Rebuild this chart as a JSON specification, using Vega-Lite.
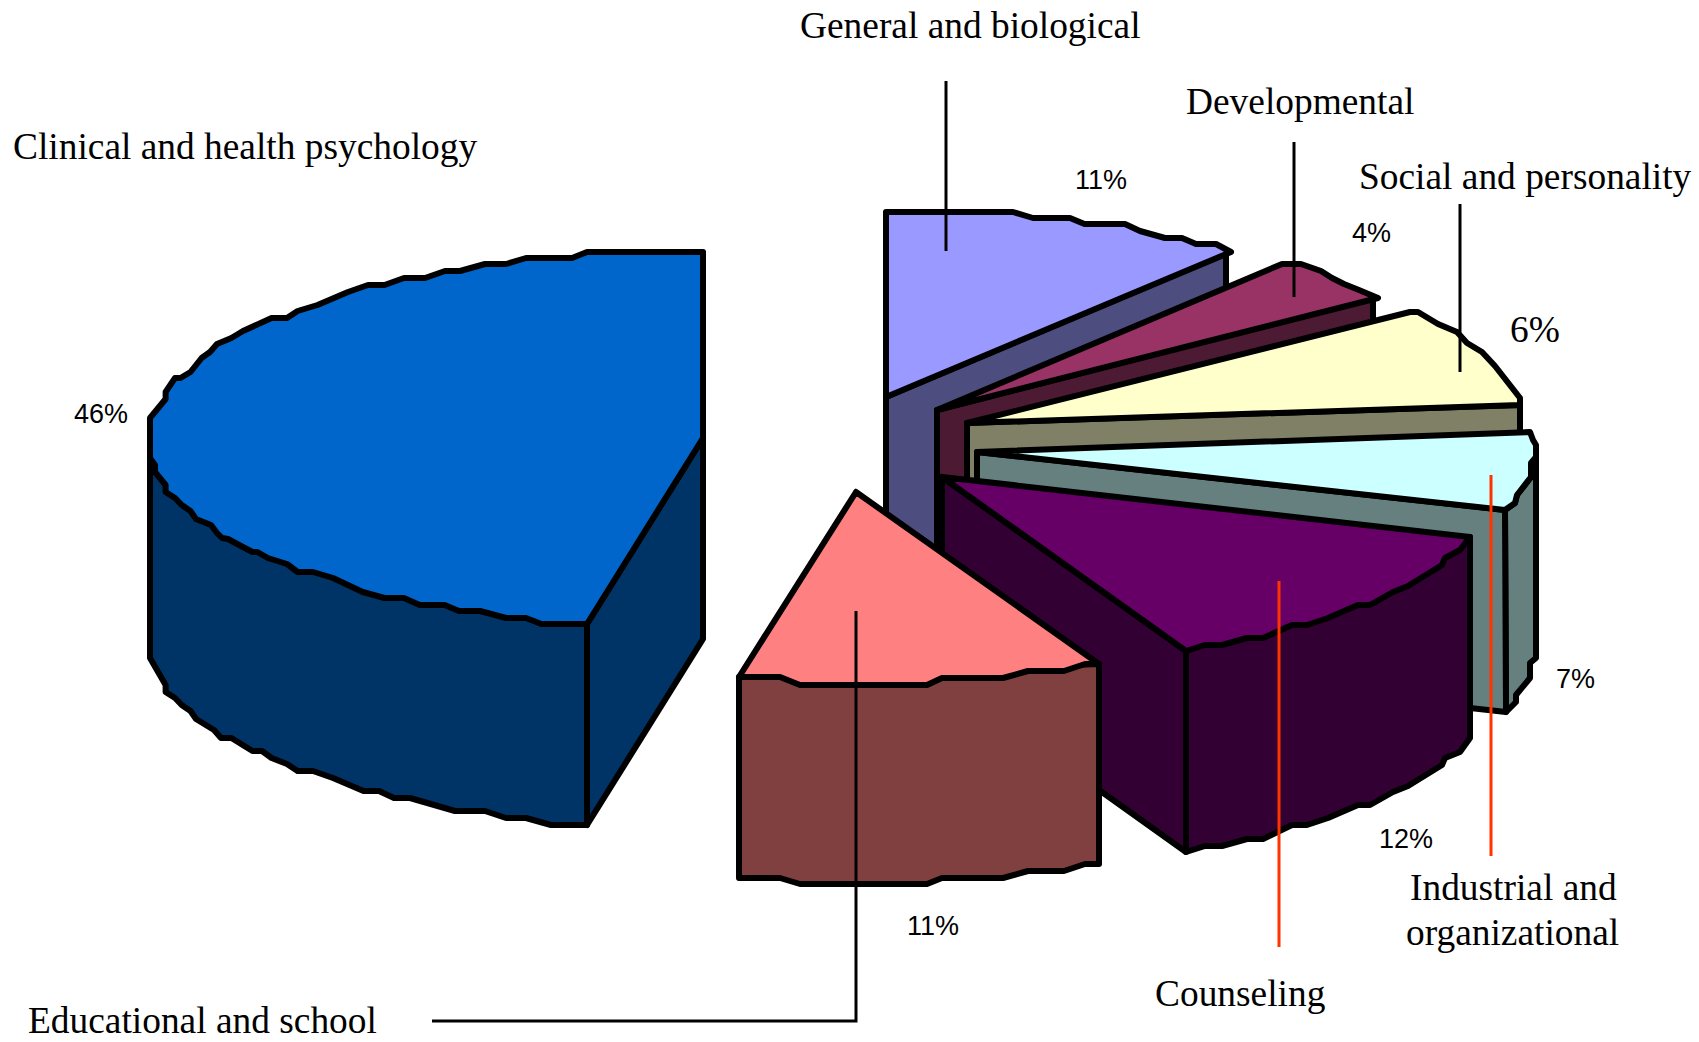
{"$schema":"https://vega.github.io/schema/vega-lite/v6.json","width":1699,"height":1042,"padding":0,"autosize":"none","background":"white","view":{"stroke":null},
"datasets":{"faces":[
{"part":"Clinical side","face":"c1","i":0,"x":703,"y":438},{"part":"Clinical side","face":"c1","i":1,"x":703,"y":639},{"part":"Clinical side","face":"c1","i":2,"x":587,"y":825},{"part":"Clinical side","face":"c1","i":3,"x":587,"y":624},{"part":"Clinical side","face":"c1","i":4,"x":703,"y":438},
{"part":"Clinical side","face":"c2","i":0,"x":150,"y":440},{"part":"Clinical side","face":"c2","i":1,"x":150,"y":658},{"part":"Clinical side","face":"c2","i":2,"x":165.6,"y":685},{"part":"Clinical side","face":"c2","i":3,"x":165.6,"y":692},{"part":"Clinical side","face":"c2","i":4,"x":175,"y":698},{"part":"Clinical side","face":"c2","i":5,"x":181.7,"y":705},{"part":"Clinical side","face":"c2","i":6,"x":190.5,"y":711},{"part":"Clinical side","face":"c2","i":7,"x":196,"y":719},{"part":"Clinical side","face":"c2","i":8,"x":214,"y":730},{"part":"Clinical side","face":"c2","i":9,"x":221,"y":738},{"part":"Clinical side","face":"c2","i":10,"x":231.4,"y":738},{"part":"Clinical side","face":"c2","i":11,"x":252.5,"y":751},{"part":"Clinical side","face":"c2","i":12,"x":262,"y":751},{"part":"Clinical side","face":"c2","i":13,"x":271.6,"y":758},{"part":"Clinical side","face":"c2","i":14,"x":287,"y":764},{"part":"Clinical side","face":"c2","i":15,"x":297.6,"y":771},{"part":"Clinical side","face":"c2","i":16,"x":313,"y":771},{"part":"Clinical side","face":"c2","i":17,"x":333,"y":778},{"part":"Clinical side","face":"c2","i":18,"x":363.5,"y":791},{"part":"Clinical side","face":"c2","i":19,"x":379,"y":791},{"part":"Clinical side","face":"c2","i":20,"x":394,"y":798},{"part":"Clinical side","face":"c2","i":21,"x":410,"y":798},{"part":"Clinical side","face":"c2","i":22,"x":455,"y":811},{"part":"Clinical side","face":"c2","i":23,"x":485,"y":811},{"part":"Clinical side","face":"c2","i":24,"x":506,"y":818},{"part":"Clinical side","face":"c2","i":25,"x":526,"y":818},{"part":"Clinical side","face":"c2","i":26,"x":551,"y":825},{"part":"Clinical side","face":"c2","i":27,"x":587,"y":825},{"part":"Clinical side","face":"c2","i":28,"x":587,"y":600},{"part":"Clinical side","face":"c2","i":29,"x":150,"y":440},
{"part":"Clinical top","face":"c3","i":0,"x":703,"y":252},{"part":"Clinical top","face":"c3","i":1,"x":587,"y":252},{"part":"Clinical top","face":"c3","i":2,"x":572,"y":258},{"part":"Clinical top","face":"c3","i":3,"x":526,"y":258},{"part":"Clinical top","face":"c3","i":4,"x":506,"y":264},{"part":"Clinical top","face":"c3","i":5,"x":485,"y":264},{"part":"Clinical top","face":"c3","i":6,"x":460,"y":271},{"part":"Clinical top","face":"c3","i":7,"x":445,"y":271},{"part":"Clinical top","face":"c3","i":8,"x":425,"y":278},{"part":"Clinical top","face":"c3","i":9,"x":404,"y":278},{"part":"Clinical top","face":"c3","i":10,"x":384.5,"y":285},{"part":"Clinical top","face":"c3","i":11,"x":368,"y":285},{"part":"Clinical top","face":"c3","i":12,"x":348,"y":292},{"part":"Clinical top","face":"c3","i":13,"x":317.5,"y":305},{"part":"Clinical top","face":"c3","i":14,"x":297.6,"y":311},{"part":"Clinical top","face":"c3","i":15,"x":287,"y":318},{"part":"Clinical top","face":"c3","i":16,"x":271.6,"y":318},{"part":"Clinical top","face":"c3","i":17,"x":243,"y":331},{"part":"Clinical top","face":"c3","i":18,"x":231.4,"y":338},{"part":"Clinical top","face":"c3","i":19,"x":217,"y":344},{"part":"Clinical top","face":"c3","i":20,"x":210,"y":352},{"part":"Clinical top","face":"c3","i":21,"x":201.6,"y":358},{"part":"Clinical top","face":"c3","i":22,"x":190.5,"y":372},{"part":"Clinical top","face":"c3","i":23,"x":180.5,"y":378},{"part":"Clinical top","face":"c3","i":24,"x":175,"y":378},{"part":"Clinical top","face":"c3","i":25,"x":165.6,"y":392},{"part":"Clinical top","face":"c3","i":26,"x":165.6,"y":399},{"part":"Clinical top","face":"c3","i":27,"x":150,"y":418},{"part":"Clinical top","face":"c3","i":28,"x":150,"y":458},{"part":"Clinical top","face":"c3","i":29,"x":155,"y":465},{"part":"Clinical top","face":"c3","i":30,"x":155,"y":472},{"part":"Clinical top","face":"c3","i":31,"x":165.6,"y":485},{"part":"Clinical top","face":"c3","i":32,"x":165.6,"y":492},{"part":"Clinical top","face":"c3","i":33,"x":175,"y":498},{"part":"Clinical top","face":"c3","i":34,"x":181.7,"y":505},{"part":"Clinical top","face":"c3","i":35,"x":190.5,"y":511},{"part":"Clinical top","face":"c3","i":36,"x":196,"y":519},{"part":"Clinical top","face":"c3","i":37,"x":211,"y":525},{"part":"Clinical top","face":"c3","i":38,"x":217,"y":533},{"part":"Clinical top","face":"c3","i":39,"x":222,"y":538},{"part":"Clinical top","face":"c3","i":40,"x":228,"y":539},{"part":"Clinical top","face":"c3","i":41,"x":241,"y":546},{"part":"Clinical top","face":"c3","i":42,"x":252.5,"y":552},{"part":"Clinical top","face":"c3","i":43,"x":257.4,"y":552},{"part":"Clinical top","face":"c3","i":44,"x":267.8,"y":558},{"part":"Clinical top","face":"c3","i":45,"x":287,"y":564},{"part":"Clinical top","face":"c3","i":46,"x":297.6,"y":572},{"part":"Clinical top","face":"c3","i":47,"x":313,"y":572},{"part":"Clinical top","face":"c3","i":48,"x":333,"y":578},{"part":"Clinical top","face":"c3","i":49,"x":362.7,"y":592},{"part":"Clinical top","face":"c3","i":50,"x":384.5,"y":598},{"part":"Clinical top","face":"c3","i":51,"x":404,"y":598},{"part":"Clinical top","face":"c3","i":52,"x":419.7,"y":605},{"part":"Clinical top","face":"c3","i":53,"x":444.6,"y":605},{"part":"Clinical top","face":"c3","i":54,"x":459,"y":611},{"part":"Clinical top","face":"c3","i":55,"x":480,"y":611},{"part":"Clinical top","face":"c3","i":56,"x":506,"y":618},{"part":"Clinical top","face":"c3","i":57,"x":526,"y":618},{"part":"Clinical top","face":"c3","i":58,"x":541.4,"y":624},{"part":"Clinical top","face":"c3","i":59,"x":587,"y":624},{"part":"Clinical top","face":"c3","i":60,"x":703,"y":438},{"part":"Clinical top","face":"c3","i":61,"x":703,"y":252},
{"part":"General side","face":"g1","i":0,"x":886,"y":397},{"part":"General side","face":"g1","i":1,"x":1226,"y":253},{"part":"General side","face":"g1","i":2,"x":1226,"y":454},{"part":"General side","face":"g1","i":3,"x":886,"y":598},{"part":"General side","face":"g1","i":4,"x":886,"y":397},
{"part":"General top","face":"g2","i":0,"x":886,"y":212},{"part":"General top","face":"g2","i":1,"x":1013,"y":212},{"part":"General top","face":"g2","i":2,"x":1033,"y":218},{"part":"General top","face":"g2","i":3,"x":1070,"y":218},{"part":"General top","face":"g2","i":4,"x":1084.5,"y":224},{"part":"General top","face":"g2","i":5,"x":1125,"y":224},{"part":"General top","face":"g2","i":6,"x":1140,"y":231},{"part":"General top","face":"g2","i":7,"x":1165,"y":238},{"part":"General top","face":"g2","i":8,"x":1182,"y":238},{"part":"General top","face":"g2","i":9,"x":1196,"y":244},{"part":"General top","face":"g2","i":10,"x":1216,"y":244},{"part":"General top","face":"g2","i":11,"x":1231,"y":252},{"part":"General top","face":"g2","i":12,"x":886,"y":397},{"part":"General top","face":"g2","i":13,"x":886,"y":212},
{"part":"Developmental side","face":"d1","i":0,"x":937,"y":410},{"part":"Developmental side","face":"d1","i":1,"x":1373,"y":298},{"part":"Developmental side","face":"d1","i":2,"x":1373,"y":499},{"part":"Developmental side","face":"d1","i":3,"x":937,"y":611},{"part":"Developmental side","face":"d1","i":4,"x":937,"y":410},
{"part":"Developmental top","face":"d2","i":0,"x":937,"y":410},{"part":"Developmental top","face":"d2","i":1,"x":1282,"y":264},{"part":"Developmental top","face":"d2","i":2,"x":1301,"y":264},{"part":"Developmental top","face":"d2","i":3,"x":1321,"y":271},{"part":"Developmental top","face":"d2","i":4,"x":1332,"y":278},{"part":"Developmental top","face":"d2","i":5,"x":1344,"y":284},{"part":"Developmental top","face":"d2","i":6,"x":1359,"y":290},{"part":"Developmental top","face":"d2","i":7,"x":1378,"y":298},{"part":"Developmental top","face":"d2","i":8,"x":937,"y":410},
{"part":"Social side","face":"s1","i":0,"x":967,"y":423},{"part":"Social side","face":"s1","i":1,"x":1520,"y":405},{"part":"Social side","face":"s1","i":2,"x":1520,"y":606},{"part":"Social side","face":"s1","i":3,"x":967,"y":624},{"part":"Social side","face":"s1","i":4,"x":967,"y":423},
{"part":"Social top","face":"s2","i":0,"x":967,"y":423},{"part":"Social top","face":"s2","i":1,"x":1410,"y":312},{"part":"Social top","face":"s2","i":2,"x":1418,"y":312},{"part":"Social top","face":"s2","i":3,"x":1438,"y":324},{"part":"Social top","face":"s2","i":4,"x":1457,"y":332},{"part":"Social top","face":"s2","i":5,"x":1467,"y":343},{"part":"Social top","face":"s2","i":6,"x":1482,"y":352},{"part":"Social top","face":"s2","i":7,"x":1495,"y":366},{"part":"Social top","face":"s2","i":8,"x":1520,"y":398},{"part":"Social top","face":"s2","i":9,"x":1520,"y":405},{"part":"Social top","face":"s2","i":10,"x":967,"y":423},
{"part":"Industrial side","face":"i1","i":0,"x":1505,"y":510},{"part":"Industrial side","face":"i1","i":1,"x":1515,"y":503},{"part":"Industrial side","face":"i1","i":2,"x":1517,"y":495},{"part":"Industrial side","face":"i1","i":3,"x":1531,"y":477},{"part":"Industrial side","face":"i1","i":4,"x":1536,"y":457},{"part":"Industrial side","face":"i1","i":5,"x":1536,"y":658},{"part":"Industrial side","face":"i1","i":6,"x":1530,"y":663},{"part":"Industrial side","face":"i1","i":7,"x":1530,"y":678},{"part":"Industrial side","face":"i1","i":8,"x":1516,"y":695},{"part":"Industrial side","face":"i1","i":9,"x":1516,"y":702},{"part":"Industrial side","face":"i1","i":10,"x":1506,"y":712},{"part":"Industrial side","face":"i1","i":11,"x":1505,"y":510},
{"part":"Industrial side","face":"i2","i":0,"x":977,"y":452},{"part":"Industrial side","face":"i2","i":1,"x":1505,"y":510},{"part":"Industrial side","face":"i2","i":2,"x":1506,"y":712},{"part":"Industrial side","face":"i2","i":3,"x":977,"y":653},{"part":"Industrial side","face":"i2","i":4,"x":977,"y":452},
{"part":"Industrial top","face":"i3","i":0,"x":977,"y":452},{"part":"Industrial top","face":"i3","i":1,"x":1530,"y":432},{"part":"Industrial top","face":"i3","i":2,"x":1533,"y":440},{"part":"Industrial top","face":"i3","i":3,"x":1536,"y":445},{"part":"Industrial top","face":"i3","i":4,"x":1536,"y":457},{"part":"Industrial top","face":"i3","i":5,"x":1531,"y":463},{"part":"Industrial top","face":"i3","i":6,"x":1531,"y":477},{"part":"Industrial top","face":"i3","i":7,"x":1517,"y":495},{"part":"Industrial top","face":"i3","i":8,"x":1515,"y":503},{"part":"Industrial top","face":"i3","i":9,"x":1505,"y":510},{"part":"Industrial top","face":"i3","i":10,"x":977,"y":452},
{"part":"Counseling side","face":"u1","i":0,"x":942,"y":477},{"part":"Counseling side","face":"u1","i":1,"x":1186,"y":651},{"part":"Counseling side","face":"u1","i":2,"x":1186,"y":852},{"part":"Counseling side","face":"u1","i":3,"x":942,"y":678},{"part":"Counseling side","face":"u1","i":4,"x":942,"y":477},
{"part":"Counseling side","face":"u2","i":0,"x":1186,"y":651},{"part":"Counseling side","face":"u2","i":1,"x":1186,"y":852},{"part":"Counseling side","face":"u2","i":2,"x":1205,"y":846},{"part":"Counseling side","face":"u2","i":3,"x":1222,"y":846},{"part":"Counseling side","face":"u2","i":4,"x":1247,"y":839},{"part":"Counseling side","face":"u2","i":5,"x":1263,"y":839},{"part":"Counseling side","face":"u2","i":6,"x":1292,"y":825},{"part":"Counseling side","face":"u2","i":7,"x":1307,"y":825},{"part":"Counseling side","face":"u2","i":8,"x":1328,"y":818},{"part":"Counseling side","face":"u2","i":9,"x":1358,"y":805},{"part":"Counseling side","face":"u2","i":10,"x":1370,"y":805},{"part":"Counseling side","face":"u2","i":11,"x":1393,"y":792},{"part":"Counseling side","face":"u2","i":12,"x":1408,"y":786},{"part":"Counseling side","face":"u2","i":13,"x":1442,"y":765},{"part":"Counseling side","face":"u2","i":14,"x":1445,"y":758},{"part":"Counseling side","face":"u2","i":15,"x":1460,"y":752},{"part":"Counseling side","face":"u2","i":16,"x":1470,"y":738},{"part":"Counseling side","face":"u2","i":17,"x":1470,"y":537},{"part":"Counseling side","face":"u2","i":18,"x":1186,"y":651},
{"part":"Counseling top","face":"u3","i":0,"x":942,"y":477},{"part":"Counseling top","face":"u3","i":1,"x":1470,"y":537},{"part":"Counseling top","face":"u3","i":2,"x":1460,"y":550},{"part":"Counseling top","face":"u3","i":3,"x":1445,"y":558},{"part":"Counseling top","face":"u3","i":4,"x":1442,"y":565},{"part":"Counseling top","face":"u3","i":5,"x":1408,"y":586},{"part":"Counseling top","face":"u3","i":6,"x":1393,"y":592},{"part":"Counseling top","face":"u3","i":7,"x":1370,"y":605},{"part":"Counseling top","face":"u3","i":8,"x":1358,"y":605},{"part":"Counseling top","face":"u3","i":9,"x":1328,"y":618},{"part":"Counseling top","face":"u3","i":10,"x":1307,"y":625},{"part":"Counseling top","face":"u3","i":11,"x":1292,"y":625},{"part":"Counseling top","face":"u3","i":12,"x":1263,"y":638},{"part":"Counseling top","face":"u3","i":13,"x":1247,"y":638},{"part":"Counseling top","face":"u3","i":14,"x":1222,"y":645},{"part":"Counseling top","face":"u3","i":15,"x":1205,"y":645},{"part":"Counseling top","face":"u3","i":16,"x":1186,"y":651},{"part":"Counseling top","face":"u3","i":17,"x":942,"y":477},
{"part":"Educational side","face":"e1","i":0,"x":739,"y":677},{"part":"Educational side","face":"e1","i":1,"x":739,"y":878},{"part":"Educational side","face":"e1","i":2,"x":780,"y":878},{"part":"Educational side","face":"e1","i":3,"x":800,"y":884},{"part":"Educational side","face":"e1","i":4,"x":927,"y":884},{"part":"Educational side","face":"e1","i":5,"x":942,"y":878},{"part":"Educational side","face":"e1","i":6,"x":1003,"y":878},{"part":"Educational side","face":"e1","i":7,"x":1028,"y":871},{"part":"Educational side","face":"e1","i":8,"x":1064,"y":871},{"part":"Educational side","face":"e1","i":9,"x":1085,"y":864},{"part":"Educational side","face":"e1","i":10,"x":1099,"y":864},{"part":"Educational side","face":"e1","i":11,"x":1099,"y":664},{"part":"Educational side","face":"e1","i":12,"x":739,"y":677},
{"part":"Educational top","face":"e2","i":0,"x":856,"y":492},{"part":"Educational top","face":"e2","i":1,"x":739,"y":677},{"part":"Educational top","face":"e2","i":2,"x":780,"y":677},{"part":"Educational top","face":"e2","i":3,"x":800,"y":685},{"part":"Educational top","face":"e2","i":4,"x":927,"y":685},{"part":"Educational top","face":"e2","i":5,"x":942,"y":678},{"part":"Educational top","face":"e2","i":6,"x":1003,"y":678},{"part":"Educational top","face":"e2","i":7,"x":1028,"y":671},{"part":"Educational top","face":"e2","i":8,"x":1064,"y":671},{"part":"Educational top","face":"e2","i":9,"x":1085,"y":664},{"part":"Educational top","face":"e2","i":10,"x":1099,"y":664},{"part":"Educational top","face":"e2","i":11,"x":856,"y":492}
],
"leaders":[
{"leader":"General","tone":"black","i":0,"x":946,"y":81},{"leader":"General","tone":"black","i":1,"x":946,"y":251},
{"leader":"Developmental","tone":"black","i":0,"x":1294,"y":142},{"leader":"Developmental","tone":"black","i":1,"x":1294,"y":297},
{"leader":"Social","tone":"black","i":0,"x":1460,"y":204},{"leader":"Social","tone":"black","i":1,"x":1460,"y":372},
{"leader":"Industrial","tone":"red","i":0,"x":1491,"y":475},{"leader":"Industrial","tone":"red","i":1,"x":1491,"y":856},
{"leader":"Counseling","tone":"red","i":0,"x":1279,"y":581},{"leader":"Counseling","tone":"red","i":1,"x":1279,"y":947},
{"leader":"Educational","tone":"black","i":0,"x":856,"y":611},{"leader":"Educational","tone":"black","i":1,"x":856,"y":1021},{"leader":"Educational","tone":"black","i":2,"x":432,"y":1021}
],
"names":[
{"label":"General and biological","x":800,"y":38},{"label":"Developmental","x":1186,"y":114},{"label":"Clinical and health psychology","x":13,"y":159},{"label":"Social and personality","x":1359,"y":189},{"label":"Industrial and","x":1410,"y":900},{"label":"organizational","x":1406,"y":945},{"label":"Counseling","x":1155,"y":1006},{"label":"Educational and school","x":28,"y":1033},{"label":"6%","x":1510,"y":342}
],
"shares":[
{"label":"46%","x":74,"y":423},{"label":"11%","x":1075,"y":189},{"label":"4%","x":1352,"y":242},{"label":"7%","x":1556,"y":688},{"label":"12%","x":1379,"y":848},{"label":"11%","x":907,"y":935}
]},
"layer":[
{"data":{"name":"faces"},"mark":{"type":"line","stroke":"#000000","strokeWidth":6,"strokeJoin":"round","strokeCap":"round","clip":false},
"encoding":{"x":{"field":"x","type":"quantitative","scale":{"domain":[0,1699],"nice":false,"zero":false},"axis":null},"y":{"field":"y","type":"quantitative","scale":{"domain":[0,1042],"reverse":true,"nice":false,"zero":false},"axis":null},"order":{"field":"i","type":"ordinal"},"detail":{"field":"face"},
"fill":{"field":"part","type":"nominal","legend":null,"scale":{"domain":["Clinical side","Clinical top","General side","General top","Developmental side","Developmental top","Social side","Social top","Industrial side","Industrial top","Counseling side","Counseling top","Educational side","Educational top"],"range":["#003366","#0066cc","#4d4d80","#9999ff","#4d1a33","#993366","#808066","#ffffcc","#668080","#ccffff","#330033","#660066","#804040","#ff8080"]}}}},
{"data":{"name":"leaders"},"mark":{"type":"line","strokeWidth":3,"strokeCap":"butt"},
"encoding":{"x":{"field":"x","type":"quantitative","scale":{"domain":[0,1699],"nice":false,"zero":false},"axis":null},"y":{"field":"y","type":"quantitative","scale":{"domain":[0,1042],"reverse":true,"nice":false,"zero":false},"axis":null},"order":{"field":"i","type":"ordinal"},"detail":{"field":"leader"},
"stroke":{"field":"tone","type":"nominal","legend":null,"scale":{"domain":["black","red"],"range":["#000000","#ff3300"]}}}},
{"data":{"name":"names"},"mark":{"type":"text","font":"Liberation Serif","fontSize":37.4,"align":"left","baseline":"alphabetic","color":"#000000"},
"encoding":{"x":{"field":"x","type":"quantitative","scale":{"domain":[0,1699],"nice":false,"zero":false},"axis":null},"y":{"field":"y","type":"quantitative","scale":{"domain":[0,1042],"reverse":true,"nice":false,"zero":false},"axis":null},"text":{"field":"label"}}},
{"data":{"name":"shares"},"mark":{"type":"text","font":"Liberation Sans","fontSize":27,"align":"left","baseline":"alphabetic","color":"#000000"},
"encoding":{"x":{"field":"x","type":"quantitative","scale":{"domain":[0,1699],"nice":false,"zero":false},"axis":null},"y":{"field":"y","type":"quantitative","scale":{"domain":[0,1042],"reverse":true,"nice":false,"zero":false},"axis":null},"text":{"field":"label"}}}
]}
